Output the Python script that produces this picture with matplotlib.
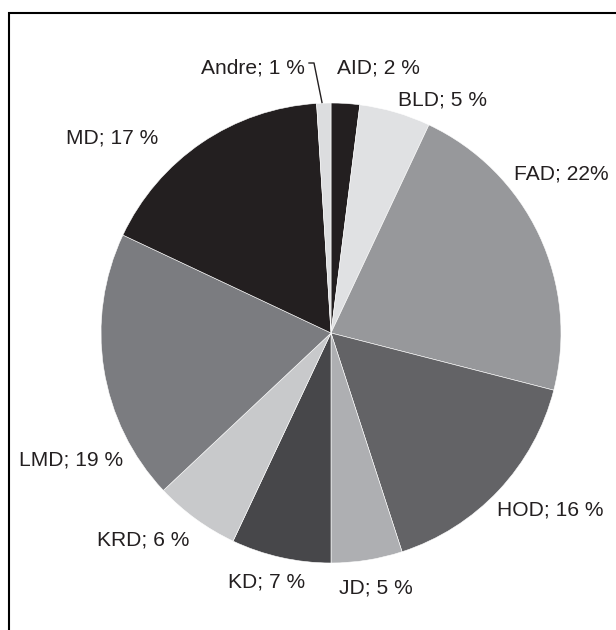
import matplotlib
matplotlib.use("Agg")
import matplotlib.pyplot as plt
from matplotlib.lines import Line2D
from matplotlib.patches import Rectangle

# ---- data ----
categories = ["AID", "BLD", "FAD", "HOD", "JD", "KD", "KRD", "LMD", "MD", "Andre"]
values = [2, 5, 22, 16, 5, 7, 6, 19, 17, 1]
labels = ["AID; 2 %", "BLD; 5 %", "FAD; 22%", "HOD; 16 %", "JD; 5 %",
          "KD; 7 %", "KRD; 6 %", "LMD; 19 %", "MD; 17 %", "Andre; 1 %"]

# ---- style ----
colors = ["#231f20", "#e0e1e3", "#97989b", "#636366", "#aeafb2",
          "#47474a", "#c8c9cb", "#7b7c80", "#231f20", "#dcdddf"]
# label anchor positions in image pixels (x, baseline y, ha)
label_pos = [(337, 73, "left"), (398, 105, "left"), (514, 180, "left"),
             (497, 515, "left"), (339, 594, "left"), (228, 588, "left"),
             (97, 545, "left"), (19, 466, "left"), (66, 143, "left"),
             (305, 73, "right")]

W, H = 616, 630
fig = plt.figure(figsize=(W / 100, H / 100), dpi=100)
ax = fig.add_axes([0, 0, 1, 1])

cx, cy, r = 331, H - 333, 230
ax.pie(values, colors=colors, startangle=90, counterclock=False,
       center=(cx, cy), radius=r, frame=True,
       wedgeprops=dict(edgecolor="white", linewidth=0.4))
ax.set_xlim(0, W)
ax.set_ylim(0, H)
ax.set_aspect("auto")
ax.axis("off")

for lab, (x, y, ha) in zip(labels, label_pos):
    ax.text(x, H - y, lab, ha=ha, va="baseline", fontsize=15.1,
            family="Liberation Sans", color="#231f20")

# leader line for Andre
ax.add_line(Line2D([309, 314, 322], [H - 63, H - 63, H - 102.5],
                   color="#231f20", lw=1.0))

# outer frame (clipped at right/bottom)
ax.add_patch(Rectangle((9.3, -20), W + 20, H - 13 + 20, fill=False,
                       edgecolor="black", lw=1.5, clip_on=True))

fig.savefig("out.png", dpi=100)
